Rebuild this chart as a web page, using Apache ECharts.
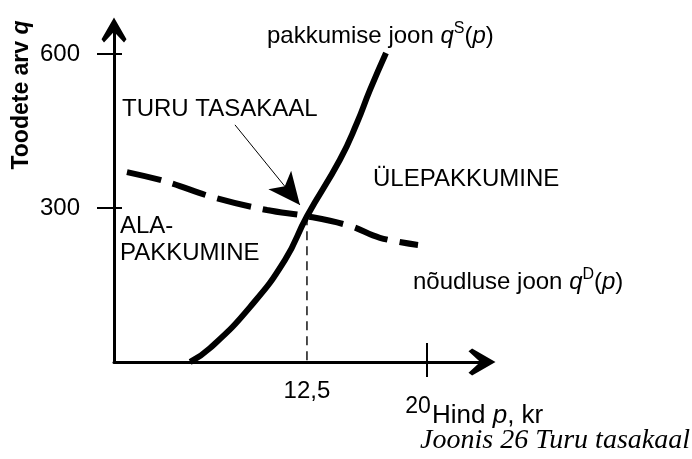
<!DOCTYPE html>
<html>
<head>
<meta charset="utf-8">
<script src="https://cdn.jsdelivr.net/npm/echarts@6/dist/echarts.min.js"></script>
<style>
  html, body { margin: 0; padding: 0; background: #fff; }
  #main { width: 692px; height: 459px; }
</style>
</head>
<body>
<div id="main"></div>
<script>
// pakkumise joon (supply), hind p -> kogus q
var supplyP = [5.2, 6.44, 8.94, 11.13, 12.5, 14.56, 15.63, 16.44, 17.44];
var supplyQ = [0, 27, 107, 199, 284, 394, 466, 530, 602];
// nõudluse joon (demand)
var demandP = [1.25, 3.75, 6.63, 10.0, 12.5, 15.19, 17.06, 19.44];
var demandQ = [370, 351, 321, 296, 284, 265, 242, 228];
// tasakaalupunkt
var eqP = 12.5;
var eqQ = 284;
// noole algus ja ots (TURU TASAKAAL)
var arrowFrom = [8.0, 462];
var arrowTo = [12.06, 306];
// telgede märgid
var xTicks = [20];
var xLabelsLow = [12.5];
var xLabelsHigh = [20];
var yTicks = [300, 600];

var font = 'Liberation Sans, Arial, sans-serif';
var arrowHead = 'path://M15,0 L30,26 L27,30 L15,17 L3,30 L0,26 Z';

function zip(a, b) {
    var out = [];
    for (var i = 0; i < a.length; i++) out.push([a[i], b[i]]);
    return out;
}

var myChart = echarts.init(document.getElementById('main'));

var option = {
    animation: false,
    backgroundColor: '#fff',
    grid: { left: 114, right: 210, top: 30, bottom: 97 },
    xAxis: [
        {
            type: 'value', min: 0.44, max: 23.44, position: 'bottom',
            axisLine: { show: true, symbol: ['none', arrowHead], symbolSize: [27, 30],
                lineStyle: { color: '#000', width: 3 } },
            axisTick: { show: true, customValues: xTicks, length: 15,
                lineStyle: { color: '#000', width: 2 } },
            axisLabel: { customValues: xLabelsLow, margin: 17, color: '#000', fontSize: 24, fontFamily: font,
                formatter: function (v) { return String(v).replace('.', ','); } },
            splitLine: { show: false }
        },
        {
            type: 'value', min: 0.44, max: 23.44, position: 'bottom', offset: 0,
            axisLine: { show: false },
            axisTick: { show: true, inside: true, customValues: xTicks, length: 19,
                lineStyle: { color: '#000', width: 2 } },
            axisLabel: { customValues: xLabelsHigh, margin: 33, color: '#000', fontSize: 23, fontFamily: font,
                padding: [0, 18, 0, 0] },
            splitLine: { show: false }
        }
    ],
    yAxis: [
        {
            type: 'value', min: 0, max: 646.8,
            axisLine: { show: true, symbol: ['none', arrowHead], symbolSize: [25, 30],
                lineStyle: { color: '#000', width: 3 } },
            axisTick: { show: true, customValues: yTicks, length: 17,
                lineStyle: { color: '#000', width: 2 } },
            axisLabel: { customValues: yTicks, margin: 34, color: '#000', fontSize: 24, fontFamily: font,
                padding: [14, 0, 0, 0] },
            splitLine: { show: false }
        },
        {
            type: 'value', min: 0, max: 646.8, position: 'left', offset: 0,
            axisLine: { show: false },
            axisTick: { show: true, inside: true, customValues: yTicks, length: 8,
                lineStyle: { color: '#000', width: 2 } },
            axisLabel: { show: false },
            splitLine: { show: false }
        }
    ],
    series: [
        {
            name: 'pakkumine',
            type: 'line',
            smooth: 0.5,
            showSymbol: false,
            lineStyle: { color: '#000', width: 6 },
            data: zip(supplyP, supplyQ)
        },
        {
            name: 'nõudlus',
            type: 'line',
            smooth: 0.4,
            showSymbol: false,
            lineStyle: { color: '#000', width: 6, type: [35, 12] },
            data: zip(demandP, demandQ)
        },
        {
            name: 'tasakaal',
            type: 'line',
            showSymbol: false,
            lineStyle: { color: '#000', width: 1.4, type: [9, 6] },
            data: [[eqP, eqQ], [eqP, 0]],
            markLine: {
                silent: true,
                symbol: ['none', 'arrow'],
                symbolSize: [1, 26],
                label: { show: false },
                lineStyle: { color: '#000', width: 1, type: 'solid' },
                data: [[
                    { coord: arrowFrom, symbol: 'none' },
                    { coord: arrowTo, symbol: 'arrow', symbolSize: [22, 32] }
                ]]
            }
        }
    ],
    graphic: [
        { type: 'text', x: 22, y: 95, rotation: Math.PI / 2,
          style: { text: 'Toodete arv {i|q}', fill: '#000', font: 'bold 23px ' + font,
                   align: 'center', verticalAlign: 'middle',
                   rich: { i: { font: 'bold italic 23px ' + font } } } },
        { type: 'text', x: 267, y: 36,
          style: { text: 'pakkumise joon {i|q}{s|S}({i|p})', fill: '#000', font: '24px ' + font,
                   verticalAlign: 'middle',
                   rich: { i: { font: 'italic 24px ' + font, lineHeight: 30 },
                           s: { font: '16px ' + font, verticalAlign: 'top', lineHeight: 16 } } } },
        { type: 'text', x: 122, y: 109,
          style: { text: 'TURU TASAKAAL', fill: '#000', font: '24px ' + font, verticalAlign: 'middle' } },
        { type: 'text', x: 373, y: 179,
          style: { text: 'ÜLEPAKKUMINE', fill: '#000', font: '24px ' + font, verticalAlign: 'middle' } },
        { type: 'text', x: 120, y: 213,
          style: { text: 'ALA-\nPAKKUMINE', fill: '#000', font: '24px ' + font, lineHeight: 27, verticalAlign: 'top' } },
        { type: 'text', x: 413, y: 282,
          style: { text: 'nõudluse joon {i|q}{s|D}({i|p})', fill: '#000', font: '24px ' + font,
                   verticalAlign: 'middle',
                   rich: { i: { font: 'italic 24px ' + font, lineHeight: 30 },
                           s: { font: '16px ' + font, verticalAlign: 'top', lineHeight: 16 } } } },
        { type: 'text', x: 432, y: 416,
          style: { text: 'Hind {i|p}, kr', fill: '#000', font: '26px ' + font, verticalAlign: 'middle',
                   rich: { i: { font: 'italic 26px ' + font } } } },
        { type: 'text', x: 690, y: 441,
          style: { text: 'Joonis 26 Turu tasakaal', fill: '#000', font: 'italic 28px Liberation Serif, Times New Roman, serif',
                   align: 'right', verticalAlign: 'middle' } }
    ]
};

myChart.setOption(option);
</script>
</body>
</html>
